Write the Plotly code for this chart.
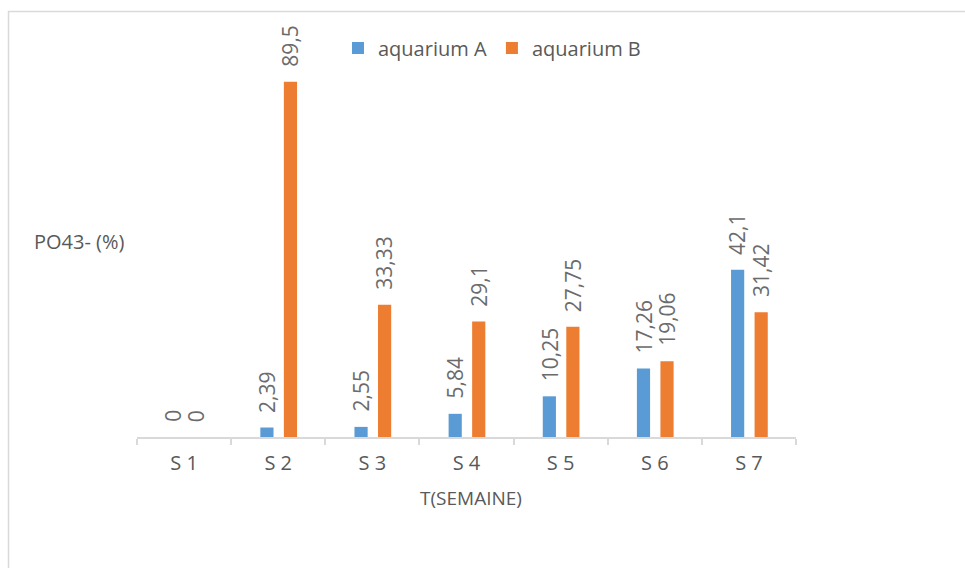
import plotly.graph_objects as go

# Weekly PO4^3- values for the two aquariums
semaines = ["S 1", "S 2", "S 3", "S 4", "S 5", "S 6", "S 7"]
aquarium_a = [0, 2.39, 2.55, 5.84, 10.25, 17.26, 42.1]
aquarium_b = [0, 89.5, 33.33, 29.1, 27.75, 19.06, 31.42]

BLUE = "#5B9BD5"
ORANGE = "#ED7D31"
TEXT = "#595959"
LABEL = "#6b6b6b"
LINE = "#d9d9d9"
FONT = "Open Sans"

W, H = 965, 568
L, R, T, B = 137, 169, 40, 131
plot_w = W - L - R
plot_h = H - T - B
cat_w = plot_w / len(semaines)

BAR_W = 0.14
OFF_A = -0.19
OFF_B = 0.06


def fmt(v):
    s = f"{v:g}"
    return s.replace(".", ",")


fig = go.Figure()
fig.add_trace(go.Bar(x=semaines, y=aquarium_a, name="aquarium A",
                     marker=dict(color=BLUE, line=dict(width=0)),
                     width=BAR_W, offset=OFF_A))
fig.add_trace(go.Bar(x=semaines, y=aquarium_b, name="aquarium B",
                     marker=dict(color=ORANGE, line=dict(width=0)),
                     width=BAR_W, offset=OFF_B))

annotations = []
for vals, off in ((aquarium_a, OFF_A), (aquarium_b, OFF_B)):
    shift = (off + BAR_W / 2) * cat_w
    for cat, v in zip(semaines, vals):
        annotations.append(dict(
            x=cat, y=v, xref="x", yref="y", text=fmt(v), showarrow=False,
            textangle=-90, xanchor="center", yanchor="bottom",
            xshift=shift, yshift=13,
            font=dict(family=FONT, size=21, color=LABEL)))

# axis titles
annotations.append(dict(
    x=(471 - L) / plot_w, y=-(498 - (H - B)) / plot_h, xref="paper", yref="paper",
    text="T(SEMAINE)", showarrow=False, xanchor="center", yanchor="middle",
    font=dict(family=FONT, size=19, color=TEXT)))
annotations.append(dict(
    x=(32 - L) / plot_w, y=((H - B) - 242) / plot_h, xref="paper", yref="paper",
    text="PO43- (%)", showarrow=False, xanchor="left", yanchor="middle",
    font=dict(family=FONT, size=20, color=TEXT)))

fig.update_layout(
    width=W, height=H,
    margin=dict(l=L, r=R, t=T, b=B, pad=0),
    paper_bgcolor="white", plot_bgcolor="white",
    barmode="overlay",
    showlegend=True,
    legend=dict(orientation="h", x=(338 - L) / plot_w, xanchor="left",
                y=((H - B) - 48) / plot_h, yanchor="middle",
                font=dict(family=FONT, size=20, color=TEXT),
                bgcolor="rgba(0,0,0,0)", itemclick=False),
    xaxis=dict(type="category", categoryorder="array", categoryarray=semaines,
               showline=True, linecolor=LINE, linewidth=1.5,
               ticks="outside", tickson="boundaries", ticklen=6,
               tickcolor=LINE, tickwidth=1.5, ticklabelstandoff=7,
               showgrid=False, zeroline=False,
               tickfont=dict(family=FONT, size=20, color=TEXT)),
    yaxis=dict(range=[0, 100], visible=False, showgrid=False, zeroline=False),
    annotations=annotations,
    shapes=[dict(type="rect", xref="paper", yref="paper",
                 x0=(8.5 - L) / plot_w, x1=1.6,
                 y0=-0.6, y1=1 + (T - 11.5) / plot_h,
                 line=dict(color=LINE, width=1.5), fillcolor="rgba(0,0,0,0)",
                 layer="below")],
)

fig.write_html("out.html")
